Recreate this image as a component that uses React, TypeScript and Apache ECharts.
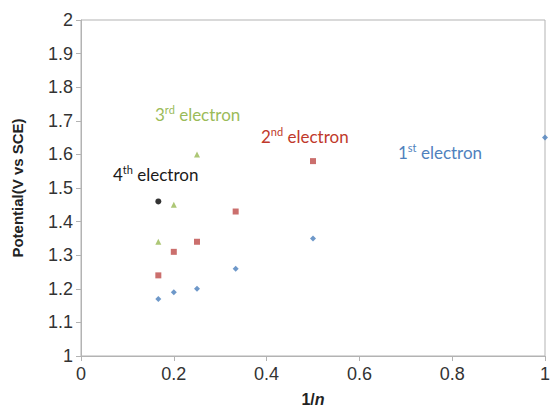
import React, { useEffect, useRef } from "react";
import * as echarts from "echarts";

const firstX = [1 / 6, 0.2, 0.25, 1 / 3, 0.5, 1.0];
const firstY = [1.17, 1.19, 1.2, 1.26, 1.35, 1.65];
const secondX = [1 / 6, 0.2, 0.25, 1 / 3, 0.5];
const secondY = [1.24, 1.31, 1.34, 1.43, 1.58];
const thirdX = [1 / 6, 0.2, 0.25];
const thirdY = [1.34, 1.45, 1.6];
const fourthX = [1 / 6];
const fourthY = [1.46];

const annotations = [
  { num: "3", sup: "rd", color: "#9bbb59", x: 155, y: 113 },
  { num: "2", sup: "nd", color: "#c0392b", x: 261, y: 135 },
  { num: "1", sup: "st", color: "#4f81bd", x: 398, y: 151 },
  { num: "4", sup: "th", color: "#1a1a1a", x: 113, y: 173 },
];

const pairs = (xs: number[], ys: number[]) => xs.map((x, i) => [x, ys[i]]);

export default function App() {
  const ref = useRef<HTMLDivElement>(null);
  useEffect(() => {
    if (!ref.current) return;
    const chart = echarts.init(ref.current, null, { renderer: "svg" });
    const axisColor = "#b3b3b3";
    const font = "Liberation Sans, Arial, sans-serif";
    const labelStyle = { color: "#333", fontSize: 18, fontFamily: font };
    chart.setOption({
      animation: false,
      backgroundColor: "#ffffff",
      grid: {
        left: 81,
        right: 5,
        top: 20,
        bottom: 53,
        containLabel: false,
        outerBoundsMode: "none",
        show: true,
        borderColor: axisColor,
        borderWidth: 1,
      },
      xAxis: {
        type: "value",
        min: 0,
        max: 1,
        interval: 0.2,
        splitLine: { show: false },
        axisLine: { show: true, lineStyle: { color: axisColor } },
        axisTick: { show: true, length: 5, lineStyle: { color: axisColor } },
        axisLabel: { ...labelStyle, margin: 9, showMaxLabel: true },
        name: "{a|1/}{b|n}",
        nameLocation: "middle",
        nameGap: 35,
        nameTextStyle: {
          rich: {
            a: { fontSize: 16, fontWeight: "bold", color: "#222", fontFamily: font },
            b: { fontSize: 16, fontWeight: "bold", fontStyle: "italic", color: "#222", fontFamily: font },
          },
        },
      },
      yAxis: {
        type: "value",
        min: 1,
        max: 2,
        interval: 0.1,
        splitLine: { show: false },
        axisLine: { show: true, lineStyle: { color: axisColor } },
        axisTick: { show: true, length: 5, lineStyle: { color: axisColor } },
        axisLabel: { ...labelStyle, margin: 8 },
        name: "Potential(V vs SCE)",
        nameLocation: "middle",
        nameGap: 56,
        nameTextStyle: {
          fontSize: 15,
          fontWeight: "bold",
          color: "#222",
          fontFamily: font,
        },
      },
      series: [
        {
          name: "1st",
          type: "scatter",
          symbol: "diamond",
          symbolSize: 6,
          itemStyle: { color: "#4a7ebb" },
          data: pairs(firstX, firstY),
        },
        {
          name: "2nd",
          type: "scatter",
          symbol: "rect",
          symbolSize: 6,
          itemStyle: { color: "#be4b48" },
          data: pairs(secondX, secondY),
        },
        {
          name: "3rd",
          type: "scatter",
          symbol: "triangle",
          symbolSize: 6,
          itemStyle: { color: "#98b954" },
          data: pairs(thirdX, thirdY),
        },
        {
          name: "4th",
          type: "scatter",
          symbol: "circle",
          symbolSize: 6,
          itemStyle: { color: "#000000" },
          data: pairs(fourthX, fourthY),
        },
      ],
      graphic: annotations.map((a) => ({
        type: "text",
        x: a.x,
        y: a.y,
        style: {
          text: `{n|${a.num}}{s|${a.sup}}{n| electron}`,
          verticalAlign: "middle",
          rich: {
            n: { fontSize: 17, fill: a.color, color: a.color, fontFamily: "Lato, sans-serif", lineHeight: 19, verticalAlign: "bottom" },
            s: { fontSize: 11, fill: a.color, color: a.color, fontFamily: "Lato, sans-serif", lineHeight: 19, verticalAlign: "top" },
          },
        },
      })),
    });
    return () => chart.dispose();
  }, []);
  return (
    <div
      ref={ref}
      style={{ position: "fixed", left: 0, top: 0, width: 550, height: 409 }}
    />
  );
}
